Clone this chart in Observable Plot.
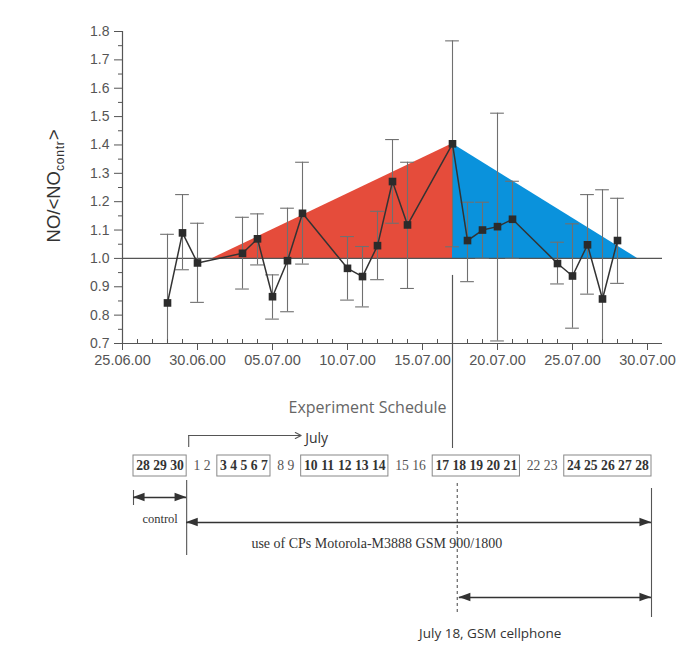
<!DOCTYPE html>
<html><head><meta charset="utf-8">
<script src="https://cdn.jsdelivr.net/npm/d3@7"></script>
<script src="https://cdn.jsdelivr.net/npm/@observablehq/plot@0.6"></script>
<style>
body{margin:0;background:#fff;}
#wrap{width:677px;}
#wrap svg{display:block;}
</style></head><body><div id="wrap"></div>
<script>
// ---- chart data ----
const dates  = ["2000-06-28","2000-06-29","2000-06-30","2000-07-03","2000-07-04","2000-07-05","2000-07-06","2000-07-07","2000-07-10","2000-07-11","2000-07-12","2000-07-13","2000-07-14","2000-07-17","2000-07-18","2000-07-19","2000-07-20","2000-07-21","2000-07-24","2000-07-25","2000-07-26","2000-07-27","2000-07-28"];
const values = [0.843,1.090,0.984,1.018,1.069,0.865,0.992,1.159,0.965,0.936,1.045,1.271,1.118,1.404,1.063,1.100,1.112,1.138,0.982,0.938,1.048,0.857,1.063];
const upper  = [1.085,1.225,1.124,1.145,1.157,0.942,1.177,1.339,1.077,1.042,1.166,1.419,1.339,1.767,1.198,1.198,1.512,1.272,1.057,1.122,1.225,1.242,1.212];
const lower  = [0.600,0.960,0.845,0.892,0.977,0.786,0.812,0.980,0.853,0.829,0.925,1.124,0.894,1.041,0.918,1.000,0.709,1.000,0.910,0.754,0.874,0.472,0.912];
const redX = ["2000-07-01","2000-07-17"];
const redTop = [1.0, 1.404];
const blueX = ["2000-07-17","2000-07-29T08:00Z"];
const blueTop = [1.404, 1.0];
const xTickLabels = ["25.06.00","30.06.00","05.07.00","10.07.00","15.07.00","20.07.00","25.07.00","30.07.00"];
const yTickLabels = ["0.7","0.8","0.9","1.0","1.1","1.2","1.3","1.4","1.5","1.6","1.7","1.8"];
const scheduleMark = "2000-07-17";

// ---- schedule data ----
const dayGroups = [["28","29","30"],["1","2"],["3","4","5","6","7"],["8","9"],["10","11","12","13","14"],["15","16"],["17","18","19","20","21"],["22","23"],["24","25","26","27","28"]];
const groupBoxed = [true,false,true,false,true,false,true,false,true];
const scheduleTitle = "Experiment Schedule";
const monthLabel = "July";
const controlLabel = "control";
const useLabel = "use of CPs Motorola-M3888 GSM 900/1800";
const gsmLabel = "July 18, GSM cellphone";

// ---- chart ----
const data = dates.map((d, i) => ({date: new Date(d), v: values[i], lo: lower[i], hi: upper[i]}));
const red = redX.map((d, i) => ({x: new Date(d), y: redTop[i]}));
const blue = blueX.map((d, i) => ({x: new Date(d), y: blueTop[i]}));
const parseTick = d3.utcParse("%d.%m.%y");
const majorTicks = xTickLabels.map(parseTick);
const x0 = majorTicks[0], x1 = majorTicks[majorTicks.length - 1];
const xEnd = d3.utcDay.offset(x1, 1);
const minorTicks = d3.utcDay.range(x0, xEnd).filter(d => !majorTicks.some(m => +m === +d));
const yMajor = yTickLabels.map(Number);
const yMinor = yMajor.slice(0, -1).map(v => +(v + 0.05).toFixed(2));
const CAP = 11 * 3600e3;
const markDate = new Date(scheduleMark);

const chart = Plot.plot({
  width: 677, height: 380,
  marginLeft: 122, marginRight: 30, marginTop: 31, marginBottom: 37,
  style: {fontFamily: "'Liberation Sans', Arial, sans-serif", fontSize: "14px", color: "#444", background: "#fff"},
  x: {type: "utc", domain: [x0, x1]},
  y: {domain: [0.7, 1.8]},
  marks: [
    Plot.areaY(red, {x: "x", y1: 1, y2: "y", fill: "#e54c3b"}),
    Plot.areaY(blue, {x: "x", y1: 1, y2: "y", fill: "#0a92dc"}),
    Plot.ruleY([1], {x1: x0, x2: xEnd, stroke: "#555", strokeWidth: 1.2}),
    Plot.ruleX(data, {x: "date", y1: "lo", y2: "hi", stroke: "#707070", strokeWidth: 1.1, clip: true}),
    Plot.ruleY(data, {y: "hi", x1: d => new Date(+d.date - CAP), x2: d => new Date(+d.date + CAP), stroke: "#707070", strokeWidth: 1.1, clip: true}),
    Plot.ruleY(data, {y: "lo", x1: d => new Date(+d.date - CAP), x2: d => new Date(+d.date + CAP), stroke: "#707070", strokeWidth: 1.1, clip: true}),
    Plot.ruleX([markDate], {y1: 0.94, y2: 0.5, stroke: "#555", strokeWidth: 1.2}),
    Plot.line(data, {x: "date", y: "v", stroke: "#333", strokeWidth: 1.5}),
    Plot.dot(data, {x: "date", y: "v", symbol: "square", r: 4.3, fill: "#2b2b2b", stroke: "none"}),
    Plot.ruleX([x0], {y1: 0.7, y2: 1.8, stroke: "#555", strokeWidth: 1.2}),
    Plot.ruleY([0.7], {x1: x0, x2: xEnd, stroke: "#555", strokeWidth: 1.2}),
    Plot.axisY({ticks: yMajor, tickFormat: d3.format(".1f"), tickSize: 8, tickPadding: 5, label: null, fontSize: 14, fill: "#555", stroke: "#555"}),
    Plot.axisY({ticks: yMinor, tickSize: 4, tickFormat: () => "", label: null, stroke: "#555"}),
    Plot.axisX({ticks: majorTicks, tickFormat: d3.utcFormat("%d.%m.%y"), tickSize: 7, tickPadding: 4, label: null, fontSize: 14.5, fill: "#555", stroke: "#555"}),
    Plot.axisX({ticks: minorTicks, tickSize: -4, tickFormat: () => "", label: null, stroke: "#555"})
  ]
});

// rotated y-axis label with subscript
const yl = d3.select(chart).append("text")
  .attr("transform", "translate(60,186) rotate(-90)")
  .attr("text-anchor", "middle")
  .attr("font-family", "'Liberation Sans', Arial, sans-serif")
  .attr("font-size", 18.5).attr("fill", "#333");
yl.append("tspan").text("NO/<NO");
yl.append("tspan").attr("font-size", 12).attr("dy", 4).attr("letter-spacing", 0.8).text("contr");
yl.append("tspan").attr("dy", -4).text(">");

document.getElementById("wrap").appendChild(chart);

// ---- schedule layout (em units along the text line) ----
const PAD = 0.2, GAP = 0.25, GROUP_GAP = 0.7;
let cur = PAD;
const dayItems = [], boxes = [];
dayGroups.forEach((g, gi) => {
  if (gi > 0) cur += GROUP_GAP;
  const start = cur;
  g.forEach((lab, j) => {
    const w = lab.length * 0.5;
    dayItems.push({label: lab, pos: cur + w / 2, bold: groupBoxed[gi], group: gi});
    cur += w;
    if (j < g.length - 1) cur += GAP;
  });
  if (groupBoxed[gi]) boxes.push({x1: start - PAD, x2: cur + PAD});
});
const totalEm = cur + PAD;
const SL = 133, SR = 651;
const emPx = (SR - SL) / totalEm;
const dayPos = (grp, lab) => dayItems.find(d => d.group === grp && d.label === lab).pos;
const ctrlL = boxes[0].x1, ctrlR = boxes[0].x2, endR = totalEm;
const pos18 = dayPos(6, "18");
const lineEm = (chart.scale("x").apply(markDate) - SL) / emPx;
const julyStart = ctrlR + 0.15, julyEnd = boxes[2].x1;

const L = 0.85, h = 0.42;
const heads = [];
function head(tip, y, dir, k) {
  heads.push({x: tip, y1: y, y2: y, k}, {x: tip - dir * L, y1: y - h, y2: y + h, k});
}
const arrows = [
  {x1: ctrlL, x2: ctrlR, y: 11.7},
  {x1: ctrlR, x2: endR, y: 14.2},
  {x1: pos18, x2: endR, y: 21.7}
];
arrows.forEach((a, i) => { head(a.x1, a.y, -1, "l" + i); head(a.x2, a.y, 1, "r" + i); });

const solidLines = [
  {x: lineEm, y1: 0, y2: 6.8},
  {x: julyStart, y1: 5.5, y2: 6.7},
  {x: ctrlR, y1: 10.0, y2: 17.5},
  {x: endR, y1: 10.8, y2: 23.7},
  {x: ctrlL, y1: 11.0, y2: 12.5}
];

const sched = Plot.plot({
  width: 677, height: 265,
  marginLeft: SL, marginRight: 677 - SR, marginTop: 0, marginBottom: 0,
  x: {domain: [0, totalEm], axis: null},
  y: {domain: [0, 26.5], range: [0, 265], axis: null},
  style: {background: "#fff", fontFamily: "'Liberation Serif', 'Times New Roman', serif"},
  marks: [
    Plot.ruleX(solidLines, {x: "x", y1: "y1", y2: "y2", stroke: "#555", strokeWidth: 1.1}),
    Plot.ruleX([pos18 - 0.15], {y1: 10.3, y2: 23.2, stroke: "#555", strokeWidth: 1.1, strokeDasharray: "3,3"}),
    Plot.text([scheduleTitle], {x: lineEm, y: 2.7, dx: -6, textAnchor: "end", fontFamily: "'Open Sans', sans-serif", fontSize: 16, fill: "#666"}),
    Plot.arrow([{a: julyStart, b: julyEnd, y: 5.5}], {x1: "a", x2: "b", y1: "y", y2: "y", stroke: "#555", strokeWidth: 1.1, headLength: 9, headAngle: 55}),
    Plot.text([monthLabel], {x: julyEnd, y: 5.8, dx: 4, textAnchor: "start", fontFamily: "'Open Sans', sans-serif", fontSize: 14, fill: "#333"}),
    Plot.rect(boxes, {x1: "x1", x2: "x2", y1: 7.5, y2: 9.6, fill: "none", stroke: "#888", strokeWidth: 1}),
    Plot.text(dayItems.filter(d => d.bold), {x: "pos", y: 8.55, text: "label", fontWeight: "bold", fontSize: emPx, fill: "#333"}),
    Plot.text(dayItems.filter(d => !d.bold), {x: "pos", y: 8.55, text: "label", fontSize: emPx, fill: "#555"}),
    Plot.ruleY(arrows, {x1: "x1", x2: "x2", y: "y", stroke: "#333", strokeWidth: 1.6}),
    Plot.areaY(heads, {x: "x", y1: "y1", y2: "y2", z: "k", fill: "#333"}),
    Plot.text([controlLabel], {x: (ctrlL + ctrlR) / 2, y: 13.8, fontSize: 12.5, fill: "#333"}),
    Plot.text([useLabel], {x: dayPos(2, "6") - 0.2, y: 16.3, textAnchor: "start", fontSize: 14, fill: "#333"}),
    Plot.text([gsmLabel], {x: dayPos(5, "16"), y: 25.3, textAnchor: "start", fontFamily: "'Open Sans', sans-serif", fontSize: 13.5, fill: "#333"})
  ]
});
document.getElementById("wrap").appendChild(sched);
</script>
</body></html>
